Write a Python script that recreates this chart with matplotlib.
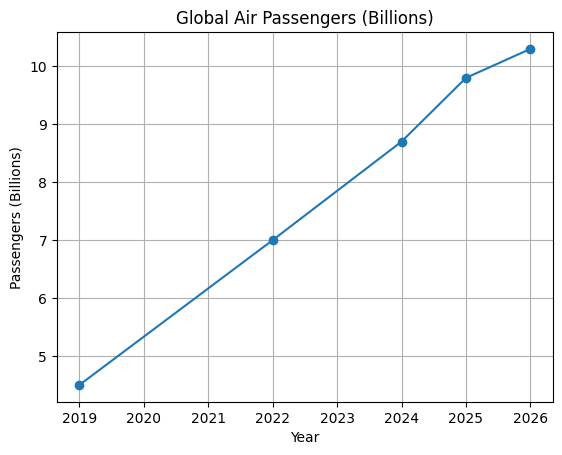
import matplotlib

matplotlib.use("Agg")
import matplotlib.pyplot as plt

years = [2019, 2022, 2024, 2025, 2026]
passengers = [4.5, 7.0, 8.7, 9.8, 10.3]

fig, ax = plt.subplots(figsize=(6.4, 4.8))
ax.plot(years, passengers, marker="o")
ax.set_title("Global Air Passengers (Billions)")
ax.set_xlabel("Year")
ax.set_ylabel("Passengers (Billions)")
ax.grid(True)
fig.savefig("out.png", dpi=100, bbox_inches="tight")
plt.close(fig)
